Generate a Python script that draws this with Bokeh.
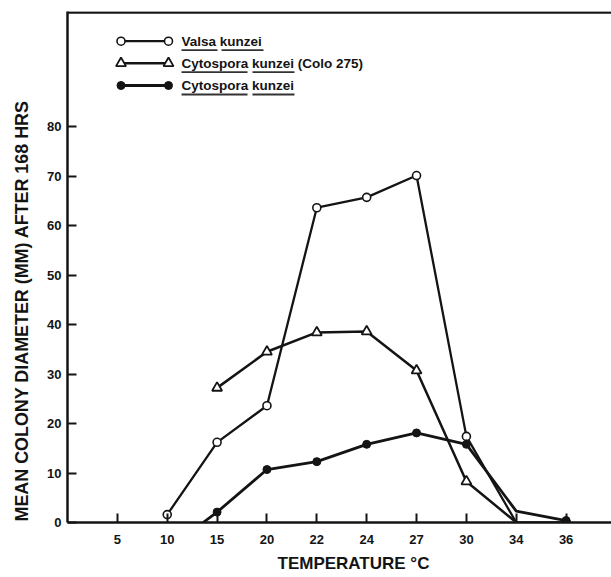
import numpy as np
from bokeh.plotting import figure
from bokeh.models import Range1d, FixedTicker, Span, Title
from bokeh.embed import file_html
from bokeh.resources import INLINE
from bokeh.core.properties import value

# ---------------- data ----------------
tick_temps = [5, 10, 15, 20, 22, 24, 27, 30, 34, 36]
tick_labels = ["5", "10", "15", "20", "22", "24", "27", "30", "34", "36"]

valsa_temp = [10, 15, 20, 22, 24, 27, 30, 34, 36]
valsa_mm = [1.6, 16.2, 23.6, 63.6, 65.7, 70.1, 17.4, 0.0, 0.0]
valsa_marked = [True, True, True, True, True, True, True, False, True]

colo_temp = [15, 20, 22, 24, 27, 30, 34]
colo_mm = [27.2, 34.5, 38.4, 38.6, 30.7, 8.3, 0.0]
colo_marked = [True, True, True, True, True, True, False]

cyto_temp = [13.6, 15, 20, 22, 24, 27, 30, 34, 36]
cyto_mm = [0.0, 2.1, 10.7, 12.3, 15.8, 18.1, 15.8, 2.3, 0.4]
cyto_marked = [False, True, True, True, True, True, True, False, True]

y_ticks = [0, 10, 20, 30, 40, 50, 60, 70, 80]

# temperatures are placed on an evenly spaced categorical-like axis
def pos(temps):
    return list(np.interp(temps, tick_temps, list(range(len(tick_temps)))))

# ---------------- layout helpers (page pixels -> data units) ----------------
X_MIN, X_MAX = -1.0, 9.91
Y_MAX = 103.25
FRAME_L, FRAME_R, FRAME_B, FRAME_T = 67.0, 611.0, 522.0, 11.0
PXX = (FRAME_R - FRAME_L) / (X_MAX - X_MIN)
PXY = (FRAME_B - FRAME_T) / Y_MAX

def dx(px):
    return X_MIN + (px - FRAME_L) / PXX

def dy(py):
    return (FRAME_B - py) / PXY

FONT = "Liberation Sans"
INK = "#141414"

p = figure(width=611, height=577, output_backend="svg", toolbar_location=None,
           x_range=Range1d(X_MIN, X_MAX), y_range=Range1d(0, Y_MAX),
           min_border_left=67, min_border_right=0, min_border_top=11,
           min_border_bottom=55)
p.outline_line_color = None
p.grid.visible = False
p.background_fill_color = "white"
p.border_fill_color = "white"

# axes
for ax in (p.xaxis[0], p.yaxis[0]):
    ax.axis_line_width = 2.5
    ax.axis_line_color = INK
    ax.major_tick_in = 9
    ax.major_tick_out = 0
    ax.major_tick_line_width = 2
    ax.major_tick_line_color = INK
    ax.minor_tick_line_color = None
    ax.major_label_text_font = FONT
    ax.major_label_text_font_style = "bold"
    ax.major_label_text_font_size = "13px"
    ax.major_label_text_color = INK

p.xaxis.ticker = FixedTicker(ticks=list(range(len(tick_temps))))
p.xaxis.major_label_overrides = {i: lab for i, lab in enumerate(tick_labels)}
p.xaxis.major_label_standoff = 12
p.yaxis.ticker = FixedTicker(ticks=y_ticks)
p.yaxis.major_label_standoff = 6

# top border line
p.add_layout(Span(location=dy(12), dimension="width", line_color=INK, line_width=2.5))

# axis titles
p.add_layout(Title(text="MEAN COLONY DIAMETER (MM) AFTER 168 HRS", align="left",
                   vertical_align="top", offset=1, standoff=22, text_font=FONT,
                   text_font_style="bold", text_font_size="17.9px", text_color=INK), "left")
p.add_layout(Title(text="TEMPERATURE \u00b0C", align="left", offset=210, standoff=10,
                   text_font=FONT, text_font_style="bold", text_font_size="17px",
                   text_color=INK), "below")

# series lines
p.line(pos(valsa_temp), valsa_mm, line_color=INK, line_width=2.3)
p.line(pos(colo_temp), colo_mm, line_color=INK, line_width=2.5)
p.line(pos(cyto_temp), cyto_mm, line_color=INK, line_width=2.8)

def pick(xs, ys, mask):
    return [x for x, m in zip(xs, mask) if m], [y for y, m in zip(ys, mask) if m]

vx, vy = pick(pos(valsa_temp), valsa_mm, valsa_marked)
cx, cy = pick(pos(colo_temp), colo_mm, colo_marked)
fx, fy = pick(pos(cyto_temp), cyto_mm, cyto_marked)

p.scatter(vx, vy, marker="circle", size=8, fill_color="white", line_color=INK, line_width=1.6)
p.scatter(cx, cy, marker="triangle", size=10, fill_color="white", line_color=INK, line_width=1.8)
p.scatter(fx, fy, marker="circle", size=8, fill_color=INK, line_color=INK, line_width=1)

# ---------------- legend (manual, to match the original) ----------------
rows_py = [40.7, 62.7, 85.0]
lx0, lx1 = 120.5, 168.0
text_px = 181.0
legend_words = [
    [("Valsa", 181, 217), ("kunzei", 221, 263)],
    [("Cytospora", 181, 247), ("kunzei", 252, 294)],
    [("Cytospora", 181, 247), ("kunzei", 252, 294)],
]
legend_texts = ["Valsa kunzei", "Cytospora kunzei (Colo 275)", "Cytospora kunzei"]
legend_styles = [
    dict(marker="circle", size=8, fill_color="white", line_width=1.6),
    dict(marker="triangle", size=10, fill_color="white", line_width=1.8),
    dict(marker="circle", size=8, fill_color=INK, line_width=1),
]
legend_lw = [2.3, 2.5, 2.8]

for ry, words, txt, st, lw in zip(rows_py, legend_words, legend_texts, legend_styles, legend_lw):
    p.line([dx(lx0), dx(lx1)], [dy(ry), dy(ry)], line_color=INK, line_width=lw)
    p.scatter([dx(lx0), dx(lx1)], [dy(ry), dy(ry)], line_color=INK, **st)
    p.text([dx(text_px)], [dy(ry)], text=[txt], text_font=value(FONT),
           text_font_style="bold", text_font_size="13.5px", text_color=INK,
           text_baseline="middle", text_align="left")
    for w, a, b in words:
        p.segment([dx(a)], [dy(ry + 9)], [dx(b)], [dy(ry + 9)],
                  line_color="#333333", line_width=1.8)

open("out.html", "w").write(file_html(p, INLINE))
